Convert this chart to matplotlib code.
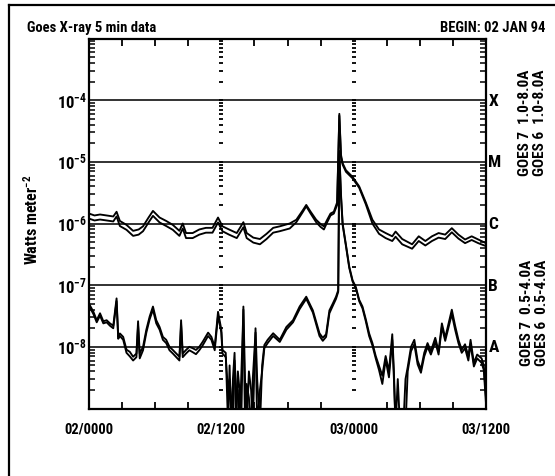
#!/usr/bin/env python3
"""GOES X-ray 5 min flux plot, 02-03 Jan 1994."""

import matplotlib

matplotlib.use("Agg")
import matplotlib.pyplot as plt
import matplotlib.transforms as mtransforms
from matplotlib import font_manager
from matplotlib.lines import Line2D
from matplotlib.ticker import FixedLocator, LogLocator, NullLocator

# hours since 02 Jan 00:00
T_LONG = [
    0.0, 0.5, 1.0, 1.6, 2.2, 2.5, 2.8, 3.4, 4.0, 4.5,
    4.9, 5.4, 5.8, 6.4, 7.0, 7.6, 8.2, 8.5, 8.8, 9.4,
    10.0, 10.6, 11.2, 11.7, 12.1, 12.7, 13.4, 14.0, 14.3, 14.9,
    15.5, 16.1, 16.7, 17.3, 18.2, 18.8, 19.4, 19.7, 20.1, 20.6,
    21.0, 21.3, 21.6, 21.9, 22.2, 22.5, 22.7, 22.85, 23.0, 23.3,
    23.9, 24.5, 25.1, 25.7, 26.3, 26.9, 27.5, 27.8, 28.4, 29.3,
    29.9, 30.5, 31.1, 31.7, 32.3, 32.9, 33.5, 34.1, 34.7, 35.3,
    36.0,
]
G7_LONG = [
    1.45e-6, 1.35e-6, 1.4e-6, 1.35e-6, 1.3e-6, 1.55e-6, 1.1e-6, 9.5e-7, 7.6e-7, 8.0e-7,
    9.0e-7, 1.25e-6, 1.6e-6, 1.25e-6, 1.1e-6, 9.5e-7, 7.6e-7, 1.0e-6, 7.0e-7, 7.0e-7,
    8.0e-7, 8.5e-7, 8.5e-7, 1.25e-6, 9.0e-7, 8.0e-7, 7.0e-7, 1.05e-6, 7.0e-7, 5.9e-7,
    5.6e-7, 6.8e-7, 8.5e-7, 9.0e-7, 1.0e-6, 1.15e-6, 1.65e-6, 2.0e-6, 1.55e-6, 1.15e-6,
    9.8e-7, 9.0e-7, 1.15e-6, 1.45e-6, 1.55e-6, 2.2e-6, 6.0e-5, 1.3e-5, 9.5e-6, 7.3e-6,
    5.7e-6, 4.0e-6, 2.2e-6, 1.15e-6, 8.0e-7, 7.0e-7, 6.2e-7, 7.4e-7, 5.6e-7, 4.6e-7,
    6.2e-7, 5.2e-7, 6.2e-7, 7.0e-7, 6.6e-7, 8.4e-7, 6.6e-7, 5.5e-7, 6.2e-7, 5.5e-7,
    4.8e-7,
]
G6_LONG = [
    1.2e-6, 1.12e-6, 1.16e-6, 1.12e-6, 1.08e-6, 1.3e-6, 9.1e-7, 7.9e-7, 6.3e-7, 6.6e-7,
    7.5e-7, 1.04e-6, 1.33e-6, 1.04e-6, 9.1e-7, 7.9e-7, 6.3e-7, 8.3e-7, 5.8e-7, 5.8e-7,
    6.6e-7, 7.1e-7, 7.1e-7, 1.04e-6, 7.5e-7, 6.6e-7, 5.8e-7, 8.7e-7, 5.8e-7, 4.9e-7,
    4.6e-7, 5.6e-7, 7.1e-7, 7.5e-7, 8.3e-7, 1.05e-6, 1.55e-6, 1.9e-6, 1.45e-6, 1.05e-6,
    8.8e-7, 8.0e-7, 1.05e-6, 1.35e-6, 1.45e-6, 2.0e-6, 5.6e-5, 1.2e-5, 9.0e-6, 6.9e-6,
    5.4e-6, 3.8e-6, 2.05e-6, 1.0e-6, 6.8e-7, 5.8e-7, 5.2e-7, 6.1e-7, 4.6e-7, 3.9e-7,
    5.2e-7, 4.4e-7, 5.2e-7, 5.9e-7, 5.6e-7, 7.2e-7, 5.7e-7, 4.8e-7, 5.4e-7, 4.8e-7,
    4.3e-7,
]

T_SHORT = [
    0.0, 0.4, 0.7, 1.0, 1.3, 1.6, 1.9, 2.2, 2.5, 2.65,
    2.8, 3.1, 3.4, 3.7, 4.0, 4.3, 4.45, 4.6, 4.9, 5.2,
    5.5, 5.8, 6.1, 6.4, 6.7, 7.0, 7.3, 7.6, 8.2, 8.35,
    8.5, 8.8, 9.1, 9.4, 9.7, 10.0, 10.3, 10.8, 11.1, 11.4,
    11.7, 12.0, 12.1, 12.4, 12.6, 12.75, 12.9, 13.05, 13.2, 13.35,
    13.5, 13.65, 13.8, 14.0, 14.15, 14.3, 14.5, 14.7, 14.85, 15.1,
    15.25, 15.5, 15.7, 15.9, 16.2, 16.7, 17.3, 17.9, 18.5, 19.1,
    19.7, 20.3, 20.9, 21.2, 21.5, 21.8, 22.1, 22.4, 22.6, 22.7,
    22.85, 23.0, 23.3, 23.6, 23.9, 24.2, 24.5, 24.8, 25.1, 25.4,
    25.7, 26.0, 26.3, 26.6, 26.9, 27.2, 27.5, 27.65, 27.8, 28.0,
    28.2, 28.5, 28.7, 28.9, 29.2, 29.5, 29.8, 30.1, 30.4, 30.7,
    31.0, 31.4, 31.7, 32.0, 32.3, 32.9, 33.2, 33.5, 33.8, 34.1,
    34.4, 34.6, 34.9, 35.2, 35.6, 35.8, 36.0,
]
G7_SHORT = [
    5.0e-8, 3.7e-8, 2.7e-8, 3.5e-8, 2.6e-8, 2.7e-8, 2.4e-8, 2.2e-8, 6.1e-8, 1.45e-8,
    1.65e-8, 1.45e-8, 9.0e-9, 8.3e-9, 6.9e-9, 7.8e-9, 2.6e-8, 7.8e-9, 1.0e-8, 1.9e-8,
    3.1e-8, 4.5e-8, 2.7e-8, 2.1e-8, 1.45e-8, 1.3e-8, 1.0e-8, 8.9e-9, 6.9e-9, 2.7e-8,
    7.8e-9, 8.9e-9, 1.0e-8, 9.5e-9, 8.9e-9, 1.0e-8, 1.2e-8, 1.7e-8, 1.45e-8, 1.0e-8,
    3.7e-8, 1.9e-8, 8.9e-9, 8.0e-9, 6e-10, 5e-9, 5e-10, 3e-9, 8e-9, 5e-10,
    4e-9, 2e-9, 5e-10, 4.5e-8, 3e-9, 5e-10, 4e-9, 2e-9, 5e-10, 2.0e-8,
    3e-9, 5e-10, 5e-9, 1.07e-8, 1.3e-8, 1.66e-8, 1.3e-8, 2.1e-8, 2.7e-8, 4.5e-8,
    6.5e-8, 3.9e-8, 1.66e-8, 1.4e-8, 1.6e-8, 3.9e-8, 5.0e-8, 6.5e-8, 8.3e-8, 1.5e-5,
    3.0e-6, 1.0e-6, 4.5e-7, 2.0e-7, 1.2e-7, 9.3e-8, 5.8e-8, 4.5e-8, 2.8e-8, 1.66e-8,
    1.15e-8, 7.1e-9, 4.9e-9, 3.4e-9, 7.1e-9, 4.0e-9, 1.6e-8, 4.0e-9, 5e-10, 3e-9,
    5e-10, 5e-10, 3e-9, 4.7e-9, 1.0e-8, 1.3e-8, 6.0e-9, 4.3e-9, 8.0e-9, 1.15e-8,
    8.5e-9, 1.4e-8, 8.5e-9, 2.4e-8, 1.4e-8, 4.0e-8, 2.2e-8, 1.3e-8, 9.0e-9, 1.1e-8,
    7.0e-9, 1.3e-8, 5.5e-9, 7.5e-9, 6.5e-9, 5.0e-9, 1.5e-9,
]
G6_SHORT = [
    4.6e-8, 3.4e-8, 2.5e-8, 3.2e-8, 2.4e-8, 2.5e-8, 2.2e-8, 2.0e-8, 5.5e-8, 1.35e-8,
    1.5e-8, 1.3e-8, 8.0e-9, 7.0e-9, 6.0e-9, 6.8e-9, 2.2e-8, 6.5e-9, 8.8e-9, 1.7e-8,
    2.8e-8, 4.0e-8, 2.4e-8, 1.9e-8, 1.3e-8, 1.15e-8, 8.8e-9, 7.8e-9, 6.0e-9, 2.3e-8,
    6.8e-9, 7.8e-9, 8.8e-9, 8.2e-9, 7.6e-9, 8.8e-9, 1.05e-8, 1.5e-8, 1.3e-8, 8.8e-9,
    3.2e-8, 1.7e-8, 7.8e-9, 6.8e-9, 2e-9, 3e-9, 1.2e-9, 5e-10, 6e-9, 2e-9,
    2e-9, 5e-10, 3e-9, 4.0e-8, 5e-10, 2.5e-9, 1.5e-9, 5e-10, 3e-9, 1.7e-8,
    5e-10, 2e-9, 4e-9, 9.5e-9, 1.15e-8, 1.5e-8, 1.2e-8, 1.9e-8, 2.5e-8, 4.1e-8,
    6.0e-8, 3.6e-8, 1.5e-8, 1.25e-8, 1.45e-8, 3.5e-8, 4.6e-8, 6.0e-8, 7.8e-8, 1.3e-5,
    2.7e-6, 9.5e-7, 4.3e-7, 1.9e-7, 1.15e-7, 8.8e-8, 5.5e-8, 4.2e-8, 2.6e-8, 1.5e-8,
    1.05e-8, 6.5e-9, 4.2e-9, 2.5e-9, 6.2e-9, 3.2e-9, 1.3e-8, 3.0e-9, 5e-10, 5e-10,
    5e-10, 5e-10, 5e-10, 4.0e-9, 8.5e-9, 1.1e-8, 5.2e-9, 3.8e-9, 7.0e-9, 1.0e-8,
    7.5e-9, 1.2e-8, 7.5e-9, 2.1e-8, 1.25e-8, 3.4e-8, 1.9e-8, 1.15e-8, 8.0e-9, 9.5e-9,
    6.0e-9, 1.1e-8, 4.8e-9, 6.5e-9, 5.5e-9, 4.2e-9, 1.2e-9,
]

X_TICKS = [0, 12, 24, 36]
X_LABELS = ["02/0000", "02/1200", "03/0000", "03/1200"]
DECADES = [-8, -7, -6, -5, -4]
CLASSES = ["A", "B", "C", "M", "X"]


def pick_font() -> tuple[str, str, bool]:
    """Prefer a narrow face; fall back to Liberation Sans."""
    entries = font_manager.fontManager.ttflist
    names = {e.name for e in entries}
    for key in ("Liberation Sans Narrow", "Roboto Condensed", "Noto Sans Condensed",
                "DejaVu Sans Condensed", "Open Sans Condensed"):
        if key in names:
            return key, "normal", True
    for e in entries:
        if e.name in ("Noto Sans", "Open Sans", "Roboto", "Inter") and \
                str(e.stretch) in ("condensed", "semi-condensed", "extra-condensed"):
            return e.name, str(e.stretch), True
    return "Liberation Sans", "normal", False


def main() -> None:
    font, stretch, narrow = pick_font()
    k = 1.0 if narrow else 0.82  # shrink sizes when only a normal-width face exists
    plt.rcParams["font.family"] = [font, "DejaVu Sans"]
    plt.rcParams["font.stretch"] = stretch
    plt.rcParams["font.weight"] = "bold"
    plt.rcParams["mathtext.fontset"] = "custom"
    plt.rcParams["mathtext.rm"] = f"{font}:bold"
    plt.rcParams["mathtext.default"] = "rm"

    W, H = 555, 477
    fig = plt.figure(figsize=(W / 100, H / 100), dpi=100)
    ax = fig.add_axes([89 / W, 1 - 409.5 / H, 397 / W, 370 / H])

    # outer frame (only top and left edges visible)
    fig.add_artist(Line2D([8.5 / W, 1.0], [1 - 5.5 / H] * 2, transform=fig.transFigure, color="k", lw=1.6))
    fig.add_artist(Line2D([8.5 / W] * 2, [0, 1 - 5.5 / H], transform=fig.transFigure, color="k", lw=1.6))

    ax.set_yscale("log")
    ax.set_xlim(0, 36)
    ax.set_ylim(1e-9, 1e-3)

    for e in DECADES:
        ax.axhline(10.0 ** e, color="#222222", lw=1.3, zorder=1)

    # tick columns at 12 h boundaries
    col_y = [m * 10.0 ** e for e in range(-9, -3) for m in range(1, 10) if m * 10.0 ** e <= 1e-3]
    for xc in (12, 24):
        ax.plot([xc] * len(col_y), col_y, ls="none", marker="_", ms=3.2, mew=1.3, color="k", zorder=1)

    for t, s7, s6 in ((T_LONG, G7_LONG, G6_LONG), (T_SHORT, G7_SHORT, G6_SHORT)):
        ax.plot(t, s7, color="k", lw=1.35, zorder=3)
        ax.plot(t, s6, color="k", lw=1.35, zorder=3)

    for sp in ax.spines.values():
        sp.set_linewidth(1.6)

    ax.yaxis.set_major_locator(NullLocator())
    ax.yaxis.set_minor_locator(LogLocator(base=10, subs=range(2, 10), numticks=20))
    ax.tick_params(axis="y", which="minor", direction="in", length=4, width=1.1,
                   left=True, right=True, labelleft=False)
    ax.set_xticks(X_TICKS)
    ax.set_xticklabels(X_LABELS, fontsize=10.5 * k)
    ax.xaxis.set_minor_locator(FixedLocator(range(3, 36, 3)))
    ax.tick_params(axis="x", which="major", length=0, pad=9)
    ax.tick_params(axis="x", which="minor", direction="in", length=5, width=1.3, top=True, bottom=True)

    trans = mtransforms.blended_transform_factory(ax.transAxes, ax.transData)
    for e, cls in zip(DECADES, CLASSES):
        ax.text(-0.006, 10.0 ** e, f"10$^{{{e}}}$", transform=trans, ha="right", va="center", fontsize=12 * k)
        ax.text(1.006, 10.0 ** e, cls, transform=trans, ha="left", va="center", fontsize=12.5 * k)

    fs = 11 * k
    fig.text(27 / W, 1 - 28 / H, "Goes X-ray 5 min data", ha="left", va="center", fontsize=10.5 * k)
    fig.text(545 / W, 1 - 28 / H, "BEGIN: 02 JAN 94", ha="right", va="center", fontsize=10.5 * k)
    fig.text(32 / W, 1 - 220 / H, "Watts meter$^{-2}$", rotation=90, ha="center", va="center", fontsize=11.5 * k)

    fig.text(525 / W, 1 - 123 / H, "GOES 7  1.0-8.0A", rotation=90, ha="center", va="center", fontsize=fs)
    fig.text(540 / W, 1 - 123 / H, "GOES 6  1.0-8.0A", rotation=90, ha="center", va="center", fontsize=fs)
    fig.text(527 / W, 1 - 313 / H, "GOES 7  0.5-4.0A", rotation=90, ha="center", va="center", fontsize=fs)
    fig.text(542 / W, 1 - 313 / H, "GOES 6  0.5-4.0A", rotation=90, ha="center", va="center", fontsize=fs)

    fig.savefig("out.png", dpi=100)
    plt.close(fig)


if __name__ == "__main__":
    main()
